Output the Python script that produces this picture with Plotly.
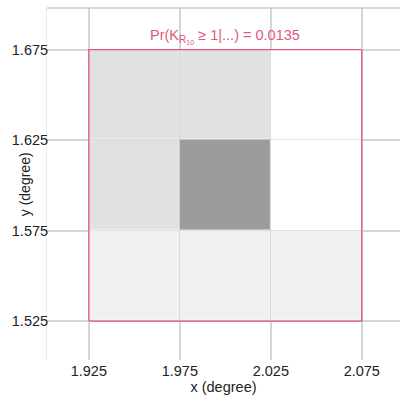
import plotly.graph_objects as go

# cell centres (degrees)
x_centers = [1.95, 2.00, 2.05]
y_centers = [1.55, 1.60, 1.65]
# relative weights per cell (rows = y, cols = x)
z_values = [
    [1.0, 1.0, 1.0],
    [2.0, 6.5, 0.0],
    [2.0, 2.0, 0.0],
]
region_x = [1.925, 2.075]
region_y = [1.525, 1.675]
prob_text = "Pr(K<sub>R<sub>10</sub></sub> ≥ 1|...) = 0.0135"
x_ticks = [1.925, 1.975, 2.025, 2.075]
y_ticks = [1.525, 1.575, 1.625, 1.675]

red = "#e05a76"
font = "Liberation Sans"

fig = go.Figure()
fig.add_trace(go.Heatmap(
    x=x_centers, y=y_centers, z=z_values,
    colorscale=[[0, "#ffffff"], [1, "#9c9c9c"]],
    zmin=0, zmax=6.5, showscale=False, xgap=1, ygap=1,
    hoverinfo="skip",
))
fig.add_trace(go.Scatter(
    x=[region_x[0], region_x[1], region_x[1], region_x[0], region_x[0]],
    y=[region_y[0], region_y[0], region_y[1], region_y[1], region_y[0]],
    mode="lines", line=dict(color=red, width=1.3), showlegend=False,
    hoverinfo="skip",
))
fig.add_annotation(
    x=sum(region_x) / 2, y=region_y[1], text=prob_text, showarrow=False,
    yanchor="bottom", yshift=1, font=dict(color=red, size=14.5, family=font),
)
fig.add_annotation(
    xref="paper", yref="paper", x=-0.09, y=0.5, text="y (degree)",
    showarrow=False, textangle=-90, font=dict(color="#222", size=14, family=font),
)
fig.add_shape(type="line", xref="paper", yref="paper", x0=0, x1=1, y0=1, y1=1,
              line=dict(color="#b4b4b4", width=1.2))

fig.update_layout(
    width=400, height=402,
    margin=dict(l=47, r=0, t=8, b=42),
    plot_bgcolor="white", paper_bgcolor="white",
    font=dict(family=font, size=14, color="#222"),
    showlegend=False,
)
fig.update_xaxes(
    range=[1.902, 2.096], tickvals=x_ticks, ticktext=[f"{v:.3f}" for v in x_ticks],
    tickfont=dict(family=font, size=14.5, color="#222"),
    showgrid=True, gridcolor="#d6d6d6", gridwidth=1.5, zeroline=False,
    ticks="", title=dict(text="x (degree)", standoff=4, font=dict(family=font, size=14.5)),
)
fig.update_yaxes(
    range=[1.5035, 1.698], tickvals=y_ticks, ticktext=[f"{v:.3f}" for v in y_ticks],
    tickfont=dict(family=font, size=14.5, color="#222"),
    showgrid=True, gridcolor="#d6d6d6", gridwidth=1.5, zeroline=False,
    ticks="", ticklabelstandoff=-5, showline=True, linecolor="#ececec", linewidth=1,
)
fig.write_html("out.html")
